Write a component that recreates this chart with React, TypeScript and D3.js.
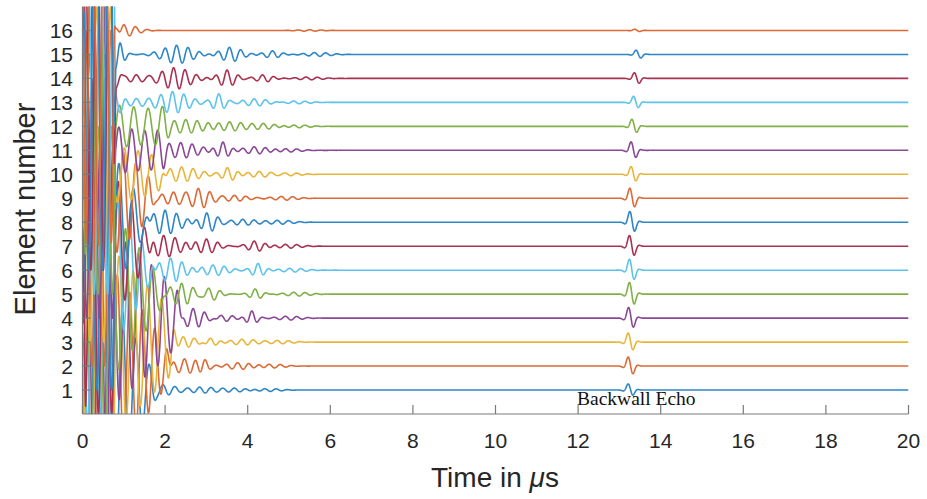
import React, { useMemo } from 'react';
import * as d3 from 'd3';

// ---------- data ----------
const elements = d3.range(1, 17); // element numbers 1..16
const xTicks = [0, 2, 4, 6, 8, 10, 12, 14, 16, 18, 20];
const yTicks = elements;
const seriesColors = ['#2f86c6', '#dc6a36', '#e8b53a', '#8a4896', '#80b046', '#5ec3ec', '#a8324f'];

// saturated excitation burst (units of element spacing, µs)
const burstStart = [0.08, 0.08, 0.08, 0.08, 0.08, 0.08, 0.08, 0.08, 0.08, 0.08, 0.08, 0.08, 0.08, 0.08, 0.08, 0.08];
const burstMainEnd = [0.76, 0.76, 0.76, 0.76, 0.76, 0.76, 0.76, 0.76, 0.75, 0.75, 0.75, 0.75, 0.74, 0.74, 0.73, 0.72];
const burstMainAmp = [7, 7, 7, 7, 7, 7, 7, 7, 7, 7, 7, 7, 8, 8, 9, 9];
const burstFreq = [3.1, 3.3, 2.9, 3.2, 3.0, 3.4, 3.1, 2.8, 3.3, 3.0, 3.2, 2.9, 3.1, 3.3, 3.0, 3.2];
// secondary (still large) arrival
const tailAmp = [4.0, 4.0, 3.8, 3.6, 3.4, 3.2, 3.0, 2.8, 2.4, 1.2, 1.0, 0.9, 0.6, 0.5, 0.5, 0.4];
const tailEnd = [1.65, 2.0, 2.12, 2.28, 1.85, 1.62, 1.57, 1.52, 1.6, 1.85, 1.92, 1.98, 0.9, 0.85, 0.82, 0.8];
const tailEndAmp = [0.9, 1.0, 1.4, 1.3, 0.8, 0.7, 0.7, 0.6, 0.9, 0.8, 0.7, 0.7, 0.4, 0.35, 0.4, 0.3];

// ringing wave packets per element: [centre µs, width µs, amplitude, frequency MHz, phase]
const ringing: number[][][] = [
  [[1.95, 0.3, 0.22, 3.5, 0], [2.9, 0.3, 0.12, 3.6, 1.5], [3.7, 0.3, 0.08, 3.6, 0.5], [4.5, 0.3, 0.06, 3.6, 2]],
  [[2.5, 0.35, 0.3, 3.6, 0.7], [2.95, 0.12, 0.25, 3.6, 0], [3.8, 0.3, 0.14, 3.6, 1], [4.6, 0.3, 0.08, 3.6, 2]],
  [[2.45, 0.35, 0.22, 3.7, 0.3], [3.1, 0.15, 0.2, 3.6, 0], [3.9, 0.3, 0.12, 3.6, 1], [4.8, 0.3, 0.07, 3.6, 2]],
  [[2.7, 0.3, 0.4, 3.6, 0.5], [3.4, 0.25, 0.15, 3.6, 1], [4.1, 0.12, 0.3, 3.6, 0], [5.0, 0.3, 0.08, 3.6, 2]],
  [[2.4, 0.3, 0.45, 3.6, 0], [3.1, 0.2, 0.28, 3.6, 1], [4.2, 0.15, 0.22, 3.6, 0.5], [5.2, 0.3, 0.08, 3.6, 2]],
  [[2.15, 0.3, 0.5, 3.6, 0.4], [3.2, 0.3, 0.22, 3.6, 1], [4.25, 0.15, 0.28, 3.6, 0], [5.1, 0.3, 0.08, 3.6, 2]],
  [[2.0, 0.35, 0.45, 3.6, 0.8], [3.0, 0.25, 0.3, 3.6, 0], [4.2, 0.2, 0.22, 3.6, 1], [5.0, 0.3, 0.08, 3.6, 2]],
  [[2.0, 0.35, 0.5, 3.6, 0], [3.05, 0.2, 0.4, 3.6, 1], [3.9, 0.3, 0.12, 3.6, 0.5], [4.8, 0.3, 0.08, 3.6, 2]],
  [[2.2, 0.3, 0.25, 3.6, 0], [2.85, 0.25, 0.4, 3.6, 1], [3.7, 0.3, 0.12, 3.6, 0.5], [4.9, 0.3, 0.08, 3.6, 2]],
  [[2.4, 0.4, 0.3, 3.6, 0], [3.55, 0.15, 0.28, 3.6, 1], [4.3, 0.3, 0.12, 3.6, 0.5], [5.0, 0.3, 0.06, 3.6, 2]],
  [[2.4, 0.4, 0.32, 3.6, 0.5], [3.4, 0.15, 0.35, 3.6, 0], [4.2, 0.3, 0.15, 3.6, 1], [5.0, 0.3, 0.07, 3.6, 2]],
  [[2.5, 0.45, 0.28, 3.6, 0], [3.6, 0.3, 0.18, 3.6, 1], [4.4, 0.3, 0.12, 3.6, 0.5], [5.2, 0.3, 0.06, 3.6, 2]],
  [[1.3, 0.3, 0.15, 3.6, 0], [2.2, 0.35, 0.45, 3.6, 0.5], [3.3, 0.15, 0.35, 3.6, 0], [4.2, 0.3, 0.15, 3.6, 1], [5.2, 0.3, 0.06, 3.6, 2]],
  [[1.3, 0.3, 0.15, 3.6, 0], [2.25, 0.35, 0.45, 3.6, 1], [3.5, 0.2, 0.35, 3.6, 0], [4.4, 0.2, 0.15, 3.6, 1], [5.5, 0.3, 0.06, 3.6, 2]],
  [[0.9, 0.12, 0.45, 3.6, 0], [2.3, 0.35, 0.38, 3.6, 0.5], [3.6, 0.25, 0.3, 3.6, 1], [4.6, 0.2, 0.15, 3.6, 0], [5.7, 0.3, 0.08, 3.6, 2]],
  [[1.0, 0.3, 0.25, 3.5, 0], [5.5, 0.3, 0.03, 3.6, 0]],
];

// backwall echo per element
const echoTime = [13.26, 13.26, 13.26, 13.27, 13.29, 13.29, 13.29, 13.3, 13.3, 13.33, 13.33, 13.35, 13.39, 13.41, 13.45, 13.42];
const echoAmp = [0.3, 0.45, 0.45, 0.53, 0.58, 0.54, 0.53, 0.53, 0.5, 0.38, 0.42, 0.35, 0.3, 0.28, 0.21, 0.06];

const tMax = 20;
const dt = 0.005;

// ---------- layout ----------
const W = 927, H = 499;
const left = 82.5, right = 908.5, top = 6.5, bottom = 414;

function gabor(t: number, p: number[]) {
  const [c, s, a, f, ph] = p;
  const u = (t - c) / s;
  if (Math.abs(u) > 4.5) return 0;
  return a * Math.exp(-0.5 * u * u) * Math.cos(2 * Math.PI * f * (t - c) + ph);
}

function burstEnvelope(t: number, i: number) {
  const s0 = burstStart[i], e0 = burstMainEnd[i];
  let main: number;
  if (t < s0) main = burstMainAmp[i] * Math.exp(-0.5 * ((t - s0) / 0.03) ** 2);
  else if (t <= e0) main = burstMainAmp[i];
  else main = burstMainAmp[i] * Math.exp(-0.5 * ((t - e0) / 0.03) ** 2);
  let tail = 0;
  if (t >= e0 - 0.05) {
    const te = tailEnd[i];
    if (t <= te) {
      const r = te > e0 ? Math.max(0, (t - e0) / (te - e0)) : 1;
      tail = tailAmp[i] + (tailEndAmp[i] - tailAmp[i]) * r;
    } else tail = tailEndAmp[i] * Math.exp(-0.5 * ((t - te) / 0.08) ** 2);
  }
  return Math.max(main, tail);
}

function trace(i: number): [number, number][] {
  const pts: [number, number][] = [];
  const n = Math.round(tMax / dt);
  for (let k = 0; k <= n; k++) {
    const t = k * dt;
    let v = 0;
    const env = burstEnvelope(t, i);
    if (env > 1e-4) v += env * Math.cos(2 * Math.PI * burstFreq[i] * t + i * 1.37);
    for (const p of ringing[i]) v += gabor(t, p);
    v += gabor(t, [echoTime[i], 0.09, echoAmp[i], 3.5, 1.3]);
    pts.push([t, elements[i] + v]);
  }
  return pts;
}

export default function App() {
  const x = d3.scaleLinear().domain([0, 20]).range([left, right]);
  const y = d3.scaleLinear().domain([0, 17]).range([bottom, top]);
  const line = d3.line<[number, number]>().x(d => x(d[0])).y(d => y(d[1]));

  const paths = useMemo(() => elements.map((_, i) => line(trace(i)) || ''), []);

  const axisColor = '#7a7a7a';
  const textColor = '#262626';
  const font = 'Liberation Sans, Arial, Helvetica, sans-serif';

  return (
    <svg width={W} height={H} style={{ position: 'absolute', left: 0, top: 0, background: '#fff' }}>
      <defs>
        <clipPath id="plotClip">
          <rect x={left} y={top} width={right - left} height={bottom - top} />
        </clipPath>
      </defs>
      <g clipPath="url(#plotClip)" fill="none" strokeWidth={1.6} strokeLinejoin="round">
        {paths.map((d, i) => (
          <path key={i} d={d} stroke={seriesColors[i % seriesColors.length]} />
        ))}
      </g>
      {/* axes */}
      <g stroke={axisColor} strokeWidth={1.2} fill="none">
        <line x1={left} y1={top} x2={left} y2={bottom} />
        <line x1={left} y1={bottom} x2={right} y2={bottom} />
        {xTicks.map(t => (
          <line key={'xt' + t} x1={x(t)} x2={x(t)} y1={bottom} y2={bottom - 9} />
        ))}
        {yTicks.map(t => (
          <line key={'yt' + t} x1={left} x2={left + 8} y1={y(t)} y2={y(t)} />
        ))}
      </g>
      <g fontFamily={font} fill={textColor} fontSize={21}>
        {xTicks.map(t => (
          <text key={'xl' + t} x={x(t)} y={448} textAnchor="middle">{t}</text>
        ))}
        {yTicks.map(t => (
          <text key={'yl' + t} x={73} y={y(t) + 7.5} textAnchor="end">{t}</text>
        ))}
      </g>
      <text x={495} y={487} textAnchor="middle" fontFamily={font} fontSize={28} fill={textColor}>
        Time in <tspan fontStyle="italic">μ</tspan>s
      </text>
      <text transform={`translate(35,209) rotate(-90)`} textAnchor="middle" fontFamily={font} fontSize={29} fill={textColor}>
        Element number
      </text>
      <text x={577} y={405} fontFamily="Liberation Serif, Times New Roman, serif" fontSize={19.5} fill="#111">
        Backwall Echo
      </text>
    </svg>
  );
}
